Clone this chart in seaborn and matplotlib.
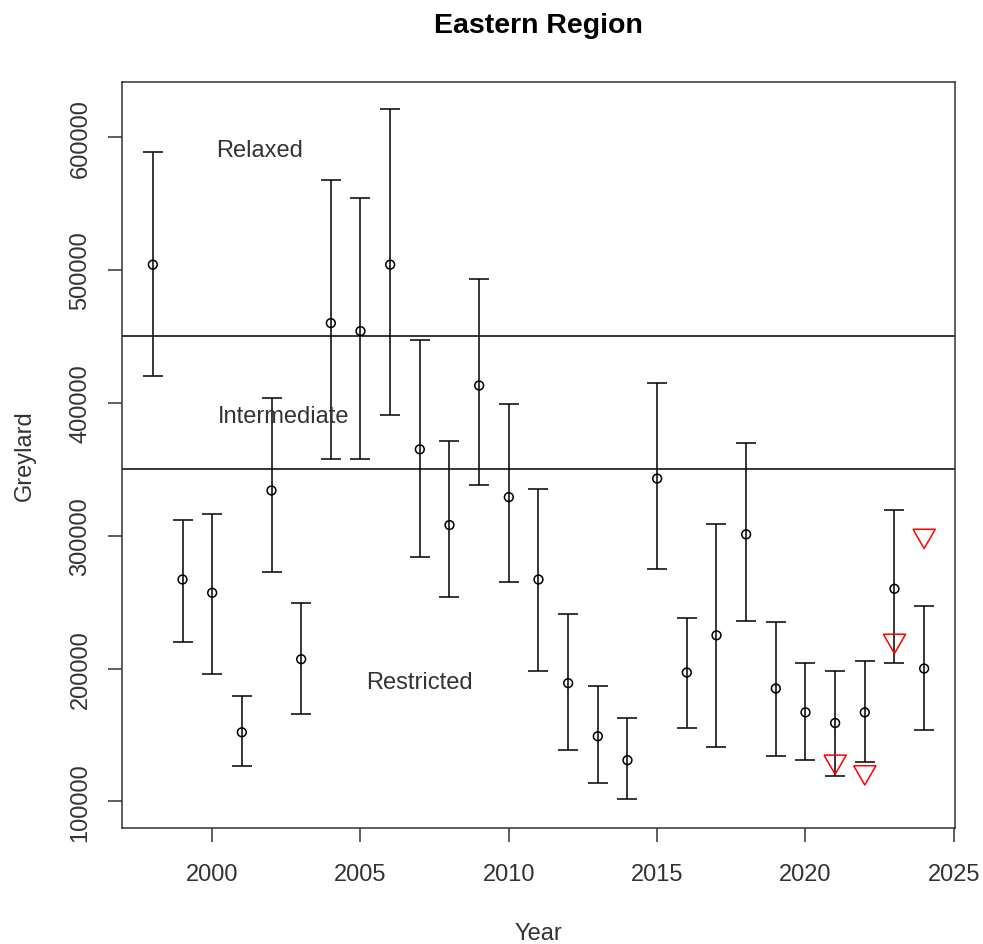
import numpy as np
import pandas as pd
import matplotlib
matplotlib.use("Agg")
import matplotlib.pyplot as plt
import seaborn as sns

# data
years = list(range(1998, 2025))
estimate = [504000, 267000, 257000, 152000, 334000, 207000, 460000, 454000,
            504000, 365000, 308000, 413000, 329000, 267000, 189000, 149000,
            131000, 343000, 197000, 225000, 301000, 185000, 167000, 159000,
            167000, 260000, 200000]
lower = [420000, 220000, 196000, 127000, 273000, 166000, 358000, 358000,
         391000, 284000, 254000, 338000, 265000, 198000, 139000, 114000,
         102000, 275000, 155000, 141000, 236000, 134000, 131000, 119000,
         130000, 204000, 154000]
upper = [589000, 312000, 316000, 179000, 404000, 249000, 568000, 554000,
         621000, 447000, 371000, 493000, 399000, 335000, 241000, 187000,
         163000, 415000, 238000, 309000, 370000, 235000, 204000, 198000,
         206000, 319000, 247000]

tri_years = [2021, 2022, 2023, 2024]
tri_values = [130000, 122000, 221000, 300000]

boundaries = [450000, 350000]
zone_labels = ["Relaxed", "Intermediate", "Restricted"]
zone_x = [2001.6, 2002.4, 2007.0]
zone_y = [590000, 390000, 190000]

df = pd.DataFrame({"Year": years, "Greylard": estimate,
                   "lower": lower, "upper": upper})
tri = pd.DataFrame({"Year": tri_years, "Greylard": tri_values})

sns.set_theme(style="white")
plt.rcParams["font.family"] = ["Liberation Sans", "DejaVu Sans"]
text_col = "#333333"

fig = plt.figure(figsize=(9.83, 9.45), dpi=100)
ax = fig.add_axes([0.1241, 0.1228, 0.8474, 0.7894])

# error bars (R arrows with angle=90)
yerr = np.vstack([df["Greylard"] - df["lower"], df["upper"] - df["Greylard"]])
ax.errorbar(df["Year"], df["Greylard"], yerr=yerr, fmt="none",
            ecolor="black", elinewidth=1.1, capsize=7, capthick=1.1, zorder=2)

sns.scatterplot(data=df, x="Year", y="Greylard", ax=ax, marker="o",
                s=40, facecolor="none", edgecolor="black", linewidth=1.1,
                zorder=3)

# equilateral down triangle like R pch=6
tri_marker = [(-1.347, 0.778), (1.347, 0.778), (0, -1.555), (-1.347, 0.778)]
sns.scatterplot(data=tri, x="Year", y="Greylard", ax=ax, marker=tri_marker,
                s=18.5 ** 2, facecolor="none", edgecolor="red", linewidth=1.1,
                zorder=4)

for b in boundaries:
    ax.axhline(b, color="black", linewidth=1.1, zorder=1)

for lab, x, y in zip(zone_labels, zone_x, zone_y):
    ax.text(x, y, lab, ha="center", va="center", fontsize=17, color=text_col)

ax.set_xlim(1996.96, 2025.04)
ax.set_ylim(80000, 641500)
ax.set_xticks(range(2000, 2026, 5))
ax.set_yticks(range(100000, 600001, 100000))
ax.set_yticklabels([str(v) for v in range(100000, 600001, 100000)])

for sp in ax.spines.values():
    sp.set_color("#333333")
    sp.set_linewidth(1.1)

ax.tick_params(axis="both", direction="out", length=10, width=1.1,
               color="#333333", labelsize=17, labelcolor=text_col,
               bottom=True, left=True)
ax.tick_params(axis="x", pad=15)
ax.tick_params(axis="y", pad=12, labelrotation=90)
for t in ax.get_yticklabels():
    t.set_va("center")

ax.set_xlabel("Year", fontsize=17, color=text_col, labelpad=27)
ax.set_ylabel("Greylard", fontsize=17, color=text_col, labelpad=24)
ax.set_title("Eastern Region", fontsize=20.5, fontweight="bold",
             color="black", pad=36)

fig.savefig("out.png", dpi=100)
